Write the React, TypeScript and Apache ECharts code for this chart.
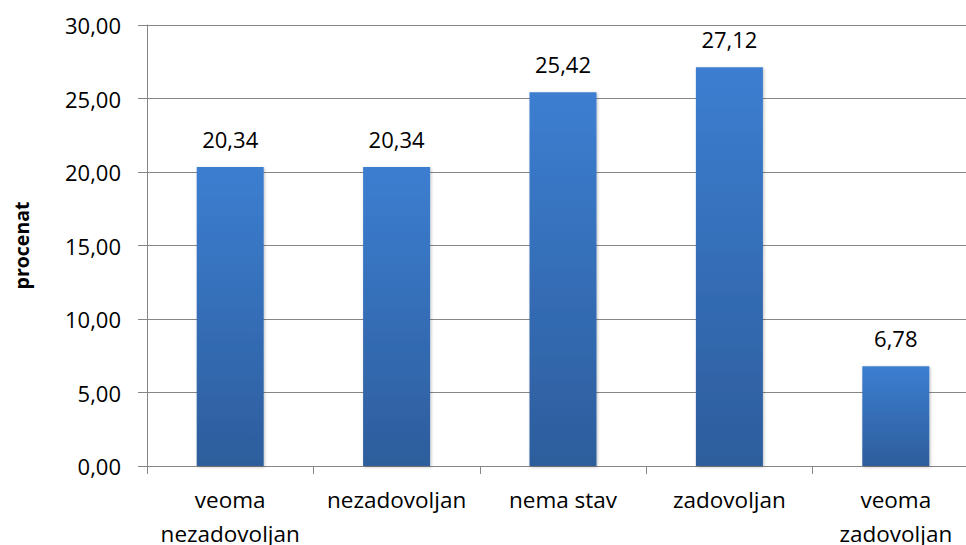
import React, { useEffect, useRef } from "react";
import * as echarts from "echarts";

const categories = ["veoma\nnezadovoljan", "nezadovoljan", "nema stav", "zadovoljan", "veoma\nzadovoljan"];
const values = [20.34, 20.34, 25.42, 27.12, 6.78];
const yTicks = { min: 0, max: 30, interval: 5 };
const yAxisTitle = "procenat";

const FONT = "Open Sans";

export default function App() {
  const ref = useRef<HTMLDivElement>(null);
  useEffect(() => {
    if (!ref.current) return;
    const chart = echarts.init(ref.current, null, { renderer: "svg" });
    const fmt = (v: number) => v.toFixed(2).replace(".", ",");
    chart.setOption({
      animation: false,
      backgroundColor: "#ffffff",
      grid: {
        left: 147,
        width: 832,
        top: 25,
        bottom: 79,
        containLabel: false,
        outerBoundsMode: "none",
      },
      xAxis: {
        type: "category",
        data: categories,
        axisLine: { show: true, lineStyle: { color: "#868686", width: 1 } },
        axisTick: { show: true, length: 8, lineStyle: { color: "#868686" } },
        axisLabel: {
          color: "#000",
          fontFamily: FONT,
          fontSize: 22.5,
          lineHeight: 34,
          margin: 16,
          interval: 0,
        },
      },
      yAxis: {
        type: "value",
        min: yTicks.min,
        max: yTicks.max,
        interval: yTicks.interval,
        name: yAxisTitle,
        nameLocation: "middle",
        nameGap: 116,
        nameTextStyle: { color: "#000", fontFamily: FONT, fontSize: 19.5, fontWeight: "bold" },
        axisLine: { show: true, lineStyle: { color: "#868686", width: 1 } },
        axisTick: { show: true, inside: false, length: 9, lineStyle: { color: "#868686" } },
        splitLine: { show: true, lineStyle: { color: "#868686", width: 1 } },
        axisLabel: {
          color: "#000",
          fontFamily: FONT,
          fontSize: 22,
          margin: 26,
          formatter: (v: number) => fmt(v),
        },
      },
      series: [
        {
          type: "bar",
          data: values,
          barWidth: 67,
          itemStyle: {
            color: new echarts.graphic.LinearGradient(0, 0, 0, 1, [
              { offset: 0, color: "#3c7ed1" },
              { offset: 1, color: "#2d5d9c" },
            ]),
            shadowColor: "rgba(0,0,0,0.25)",
            shadowBlur: 3,
            shadowOffsetX: 1,
            shadowOffsetY: 1,
          },
          label: {
            show: true,
            position: "top",
            distance: 17,
            color: "#000",
            fontFamily: FONT,
            fontSize: 22,
            formatter: (p: any) => fmt(p.value),
          },
        },
      ],
    });
    return () => chart.dispose();
  }, []);
  return <div ref={ref} style={{ width: 966, height: 545, position: "absolute", left: 0, top: 0 }} />;
}
